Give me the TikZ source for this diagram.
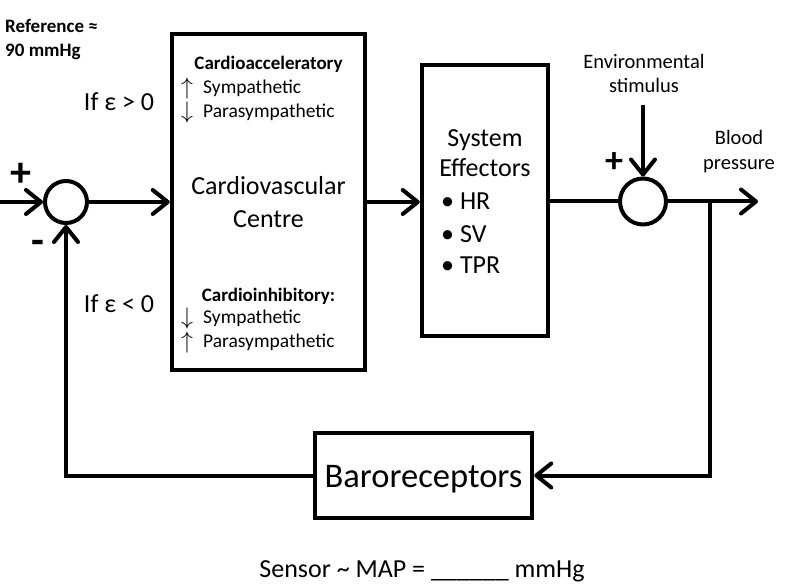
\documentclass[tikz,border=0pt]{standalone}
\usepackage{fontspec}
\setmainfont{Carlito}
\usetikzlibrary{arrows.meta}
\newcommand{\upar}{\makebox[22pt][l]{\raisebox{-1pt}{\scalebox{1.15}{$\uparrow$}}}}
\newcommand{\dnar}{\makebox[22pt][l]{\raisebox{-1pt}{\scalebox{1.15}{$\downarrow$}}}}
\begin{document}
\begin{tikzpicture}[x=1pt,y=-1pt,
  box/.style={draw, line width=4.5pt, rectangle, inner sep=0pt},
  sumnode/.style={draw, circle, line width=4pt, inner sep=0pt},
  conn/.style={line width=4pt},
  arr/.style={conn, -{Straight Barb[length=15pt,width=24pt,round]}},
  txt/.style={inner sep=0pt, anchor=base},
  txtl/.style={inner sep=0pt, anchor=base west},
  big/.style={font=\fontsize{26pt}{31pt}\selectfont},
  small/.style={font=\fontsize{19.5pt}{23pt}\selectfont},
  smallb/.style={font=\fontsize{19pt}{23pt}\selectfont\bfseries},
  lab/.style={font=\fontsize{20.5pt}{24pt}\selectfont},
  huge/.style={font=\fontsize{34.5pt}{40pt}\selectfont},
  sign/.style={inner sep=0pt, font=\fontsize{42pt}{46pt}\selectfont\bfseries},
  signs/.style={inner sep=0pt, font=\fontsize{36pt}{40pt}\selectfont\bfseries}
]
\useasboundingbox (0,0) rectangle (787,588);

% blocks
\node[box, minimum width=193pt, minimum height=336pt] (cvc) at (268.5,202) {};
\node[box, minimum width=126pt, minimum height=271pt] (eff) at (485,200.5) {};
\node[box, minimum width=217pt, minimum height=85pt] (baro) at (423.5,475.5) {};
\node[sumnode, minimum size=42pt] (s1) at (66,202) {};
\node[sumnode, minimum size=46pt] (s2) at (643,201.5) {};

% texts
\node[txtl, smallb] (ref1) at (5,33) {Reference ≈};
\node[txtl, smallb] (ref2) at (5,57) {90 mmHg};
\node[txt, big] (ifp) at (119,111) {If ε > 0};
\node[txt, big] (ifn) at (119,312) {If ε < 0};

\node[txt, smallb] (acc) at (268.5,70) {Cardioacceleratory};
\node[txtl, small] (acc1) at (181,94) {\upar Sympathetic};
\node[txtl, small] (acc2) at (181,118) {\dnar Parasympathetic};
\node[txt, big] (cv1) at (268.5,195) {Cardiovascular};
\node[txt, big] (cv2) at (268.5,227) {Centre};
\node[txt, smallb] (inh) at (268.5,301) {Cardioinhibitory:};
\node[txtl, small] (inh1) at (181,323) {\dnar Sympathetic};
\node[txtl, small] (inh2) at (181,347) {\upar Parasympathetic};

\node[txt, big] (ef1) at (485,147) {System};
\node[txt, big] (ef2) at (485,177) {Effectors};
\node[txtl, big] (ef3) at (441,210) {• HR};
\node[txtl, big] (ef4) at (441,242) {• SV};
\node[txtl, big] (ef5) at (441,273) {• TPR};

\node[txt, lab] (env1) at (644,69) {Environmental};
\node[txt, lab] (env2) at (644,93) {stimulus};
\node[txt, lab] (bp1) at (739,145) {Blood};
\node[txt, lab] (bp2) at (739,170) {pressure};

\node[txt, huge] (barotext) at (423.5,487) {Baroreceptors};
\node[txt, big] (sensor) at (422,577) {Sensor \textasciitilde{} MAP = \_\_\_\_\_\_ mmHg};

\node[sign] (p1) at (21,175) {+};
\node[sign] (m1) at (38,247) {-};
\node[signs] (p2) at (614,163) {+};

% connectors
\coordinate (in) at (0,202);
\coordinate (env) at (643,105);
\coordinate (out) at (758,201.5);
\coordinate (br) at (710,201.5);

\draw[arr] (in) -- (s1.west);
\draw[arr] (s1.east) -- (cvc.west);
\draw[arr] (cvc.east) -- (cvc.east -| eff.west);
\draw[conn] (s2.west -| eff.east) -- (s2.west);
\draw[arr] (env) -- (s2.north);
\draw[arr] (s2.east) -- (out);
\draw[arr] (br) |- (baro.east);
\draw[arr] (baro.west) -| (s1.south);
\end{tikzpicture}
\end{document}
